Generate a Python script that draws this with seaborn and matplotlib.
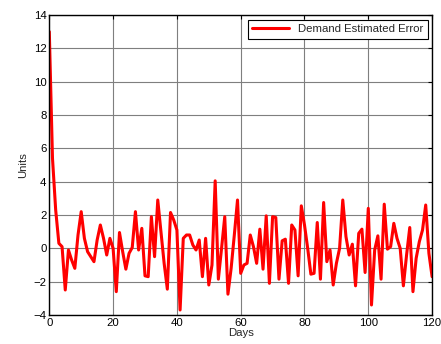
import numpy as np
import pandas as pd
import matplotlib
matplotlib.use("Agg")
import matplotlib.pyplot as plt
import seaborn as sns

# ── data ──────────────────────────────────────────────────────
days = list(range(0, 121))
error = [
    13.0, 5.4, 2.3, 0.3, 0.1, -2.5, -0.1, -0.7, -1.2, 0.8,
    2.2, 0.6, -0.2, -0.5, -0.8, 0.5, 1.4, 0.6, -0.4, 0.6,
    0.0, -2.6, 0.95, -0.2, -1.25, -0.3, 0.05, 2.2, -0.1, 1.2,
    -1.65, -1.7, 1.9, -0.5, 2.9, 1.0, -0.9, -2.45, 2.15, 1.7,
    1.1, -3.7, 0.6, 0.8, 0.8, 0.2, -0.1, 0.5, -1.7, 0.6,
    -2.2, -1.0, 4.05, -1.85, 0.0, 1.9, -2.75, -1.2, 0.8, 2.9,
    -1.5, -1.0, -0.9, 0.8, 0.1, -0.9, 1.15, -1.25, 1.95, -2.1,
    1.9, 1.85, -1.85, 0.45, 0.55, -2.1, 1.4, 1.1, -1.65, 2.55,
    1.4, 0.0, -1.55, -1.5, 1.55, -1.85, 2.75, -0.8, -0.1, -2.2,
    -0.9, 0.0, 2.9, 0.7, -0.4, 0.25, -2.25, 0.9, 1.15, -1.45,
    2.4, -3.4, -0.1, 0.75, -1.85, 2.65, -0.05, 0.1, 1.5, 0.6,
    0.0, -2.25, -0.4, 1.25, -2.6, -0.6, 0.4, 1.1, 2.6, -0.3,
    -1.7,
]
series_name = "Demand Estimated Error"
x_ticks = [0, 20, 40, 60, 80, 100, 120]
y_ticks = [-4, -2, 0, 2, 4, 6, 8, 10, 12, 14]

df = pd.DataFrame({"Days": days, "Units": error, "series": series_name})

# ── style ─────────────────────────────────────────────────────
sns.set_style("white")
plt.rcParams["font.family"] = ["Liberation Sans", "DejaVu Sans"]
plt.rcParams["font.size"] = 8

fig = plt.figure(figsize=(4.41, 3.44), dpi=100)
ax = fig.add_axes([0.1118, 0.0843, 0.868, 0.8721])

sns.lineplot(data=df, x="Days", y="Units", hue="series",
             palette=["#ff0000"], linewidth=2.2, ax=ax)

ax.set_xlim(0, 120)
ax.set_ylim(-4, 14)
ax.set_xticks(x_ticks)
ax.set_yticks(y_ticks)
ax.grid(True, color="#7f7f7f", linewidth=0.8)
ax.set_axisbelow(True)
for s in ax.spines.values():
    s.set_color("black")
    s.set_linewidth(1.0)
ax.tick_params(direction="in", length=3, width=0.8, top=True, right=True,
               labelsize=8.2, colors="black", pad=2)
ax.set_xlabel("Days", fontsize=8.2, labelpad=0)
ax.set_ylabel("Units", fontsize=8.2, labelpad=4)

leg = ax.legend(loc="upper right", frameon=True, fancybox=False,
                edgecolor="black", framealpha=1, fontsize=8.2,
                borderaxespad=0.4, handlelength=3.2)
leg.get_frame().set_linewidth(0.8)

fig.savefig("out.png", dpi=100)
